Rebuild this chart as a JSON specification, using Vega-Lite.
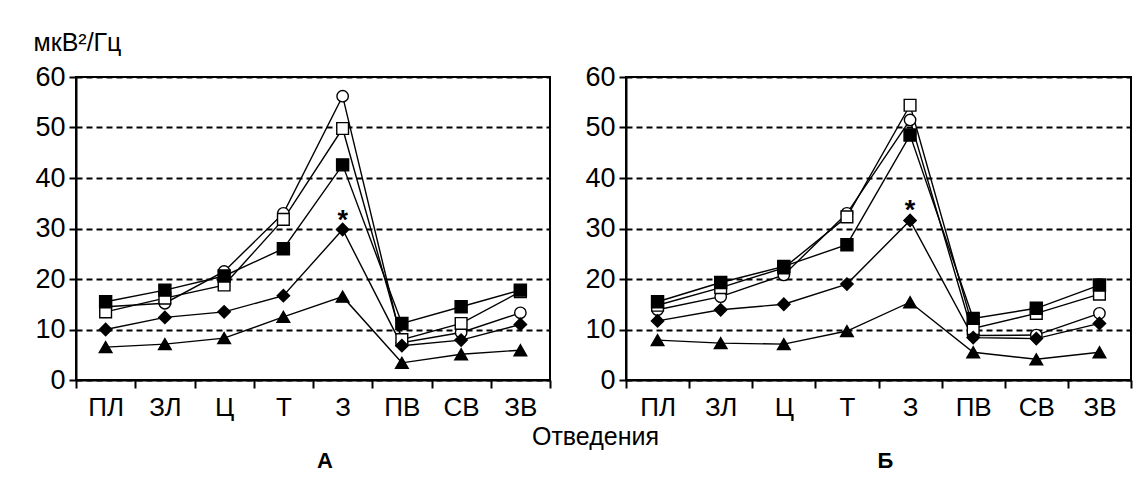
{
  "$schema": "https://vega.github.io/schema/vega-lite/v6.json",
  "background": "white",
  "padding": {"left": 32, "top": 29, "right": 5, "bottom": 5},
  "autosize": {"type": "pad"},
  "config": {
    "font": "Liberation Sans",
    "view": {"stroke": "black", "strokeWidth": 2},
    "axis": {
      "labelFont": "Liberation Sans", "labelFontSize": 26, "labelColor": "black",
      "domainColor": "black", "domainWidth": 2,
      "tickColor": "black", "tickWidth": 2, "tickSize": 7,
      "gridColor": "black", "gridDash": [6, 4], "gridWidth": 2,
      "titleFont": "Liberation Sans", "titleFontWeight": "normal", "titleColor": "black", "titleFontSize": 25
    }
  },
  "datasets": {
    "values": [
      {"panel": "А", "lead": "ПЛ", "group": "1", "value": 14.5},
      {"panel": "А", "lead": "ПЛ", "group": "2", "value": 13.5},
      {"panel": "А", "lead": "ПЛ", "group": "3", "value": 15.5},
      {"panel": "А", "lead": "ПЛ", "group": "4", "value": 10.0},
      {"panel": "А", "lead": "ПЛ", "group": "5", "value": 6.5},
      {"panel": "А", "lead": "ЗЛ", "group": "1", "value": 15.2},
      {"panel": "А", "lead": "ЗЛ", "group": "2", "value": 16.2},
      {"panel": "А", "lead": "ЗЛ", "group": "3", "value": 17.8},
      {"panel": "А", "lead": "ЗЛ", "group": "4", "value": 12.4},
      {"panel": "А", "lead": "ЗЛ", "group": "5", "value": 7.1},
      {"panel": "А", "lead": "Ц", "group": "1", "value": 21.5},
      {"panel": "А", "lead": "Ц", "group": "2", "value": 18.8},
      {"panel": "А", "lead": "Ц", "group": "3", "value": 20.6},
      {"panel": "А", "lead": "Ц", "group": "4", "value": 13.5},
      {"panel": "А", "lead": "Ц", "group": "5", "value": 8.3},
      {"panel": "А", "lead": "Т", "group": "1", "value": 33.0},
      {"panel": "А", "lead": "Т", "group": "2", "value": 31.8},
      {"panel": "А", "lead": "Т", "group": "3", "value": 26.0},
      {"panel": "А", "lead": "Т", "group": "4", "value": 16.7},
      {"panel": "А", "lead": "Т", "group": "5", "value": 12.5},
      {"panel": "А", "lead": "З", "group": "1", "value": 56.2},
      {"panel": "А", "lead": "З", "group": "2", "value": 49.8},
      {"panel": "А", "lead": "З", "group": "3", "value": 42.6},
      {"panel": "А", "lead": "З", "group": "4", "value": 29.8},
      {"panel": "А", "lead": "З", "group": "5", "value": 16.5},
      {"panel": "А", "lead": "ПВ", "group": "1", "value": 7.4},
      {"panel": "А", "lead": "ПВ", "group": "2", "value": 8.0},
      {"panel": "А", "lead": "ПВ", "group": "3", "value": 11.2},
      {"panel": "А", "lead": "ПВ", "group": "4", "value": 6.8},
      {"panel": "А", "lead": "ПВ", "group": "5", "value": 3.4},
      {"panel": "А", "lead": "СВ", "group": "1", "value": 9.4},
      {"panel": "А", "lead": "СВ", "group": "2", "value": 11.2},
      {"panel": "А", "lead": "СВ", "group": "3", "value": 14.5},
      {"panel": "А", "lead": "СВ", "group": "4", "value": 7.9},
      {"panel": "А", "lead": "СВ", "group": "5", "value": 5.1},
      {"panel": "А", "lead": "ЗВ", "group": "1", "value": 13.3},
      {"panel": "А", "lead": "ЗВ", "group": "2", "value": 17.5},
      {"panel": "А", "lead": "ЗВ", "group": "3", "value": 17.8},
      {"panel": "А", "lead": "ЗВ", "group": "4", "value": 11.0},
      {"panel": "А", "lead": "ЗВ", "group": "5", "value": 5.9},
      {"panel": "Б", "lead": "ПЛ", "group": "1", "value": 13.9},
      {"panel": "Б", "lead": "ПЛ", "group": "2", "value": 14.8},
      {"panel": "Б", "lead": "ПЛ", "group": "3", "value": 15.5},
      {"panel": "Б", "lead": "ПЛ", "group": "4", "value": 11.7},
      {"panel": "Б", "lead": "ПЛ", "group": "5", "value": 7.9},
      {"panel": "Б", "lead": "ЗЛ", "group": "1", "value": 16.5},
      {"panel": "Б", "lead": "ЗЛ", "group": "2", "value": 18.3},
      {"panel": "Б", "lead": "ЗЛ", "group": "3", "value": 19.3},
      {"panel": "Б", "lead": "ЗЛ", "group": "4", "value": 13.9},
      {"panel": "Б", "lead": "ЗЛ", "group": "5", "value": 7.3},
      {"panel": "Б", "lead": "Ц", "group": "1", "value": 20.8},
      {"panel": "Б", "lead": "Ц", "group": "2", "value": 22.2},
      {"panel": "Б", "lead": "Ц", "group": "3", "value": 22.5},
      {"panel": "Б", "lead": "Ц", "group": "4", "value": 15.0},
      {"panel": "Б", "lead": "Ц", "group": "5", "value": 7.1},
      {"panel": "Б", "lead": "Т", "group": "1", "value": 33.0},
      {"panel": "Б", "lead": "Т", "group": "2", "value": 32.3},
      {"panel": "Б", "lead": "Т", "group": "3", "value": 26.8},
      {"panel": "Б", "lead": "Т", "group": "4", "value": 19.0},
      {"panel": "Б", "lead": "Т", "group": "5", "value": 9.7},
      {"panel": "Б", "lead": "З", "group": "1", "value": 51.5},
      {"panel": "Б", "lead": "З", "group": "2", "value": 54.4},
      {"panel": "Б", "lead": "З", "group": "3", "value": 48.5},
      {"panel": "Б", "lead": "З", "group": "4", "value": 31.6},
      {"panel": "Б", "lead": "З", "group": "5", "value": 15.4},
      {"panel": "Б", "lead": "ПВ", "group": "1", "value": 8.8},
      {"panel": "Б", "lead": "ПВ", "group": "2", "value": 10.2},
      {"panel": "Б", "lead": "ПВ", "group": "3", "value": 12.2},
      {"panel": "Б", "lead": "ПВ", "group": "4", "value": 8.4},
      {"panel": "Б", "lead": "ПВ", "group": "5", "value": 5.5},
      {"panel": "Б", "lead": "СВ", "group": "1", "value": 8.9},
      {"panel": "Б", "lead": "СВ", "group": "2", "value": 13.2},
      {"panel": "Б", "lead": "СВ", "group": "3", "value": 14.2},
      {"panel": "Б", "lead": "СВ", "group": "4", "value": 8.2},
      {"panel": "Б", "lead": "СВ", "group": "5", "value": 4.1},
      {"panel": "Б", "lead": "ЗВ", "group": "1", "value": 13.2},
      {"panel": "Б", "lead": "ЗВ", "group": "2", "value": 17.0},
      {"panel": "Б", "lead": "ЗВ", "group": "3", "value": 18.8},
      {"panel": "Б", "lead": "ЗВ", "group": "4", "value": 11.2},
      {"panel": "Б", "lead": "ЗВ", "group": "5", "value": 5.5}
    ],
    "stars": [
      {"panel": "А", "lead": "З", "value": 29.8, "note": "*"},
      {"panel": "Б", "lead": "З", "value": 31.6, "note": "*"}
    ]
  },
  "spacing": 76,
  "bounds": "flush",
  "hconcat": [
    {
      "width": 474,
      "height": 303,
      "title": {"text": "А", "orient": "bottom", "fontSize": 22, "fontWeight": "bold", "color": "black", "dx": 12, "offset": 2},
      "encoding": {
        "x": {
          "field": "lead", "type": "nominal",
          "sort": ["ПЛ", "ЗЛ", "Ц", "Т", "З", "ПВ", "СВ", "ЗВ"],
          "scale": {"paddingInner": 0, "paddingOuter": 0},
          "axis": {"labelAngle": 0, "tickBand": "extent", "labelPadding": 6, "tickSize": 8,
                   "title": "Отведения", "titleX": 519, "titleY": 64, "titleAlign": "center", "titleBaseline": "alphabetic"}
        },
        "y": {
          "field": "value", "type": "quantitative",
          "scale": {"domain": [0, 60], "nice": false},
          "axis": {"values": [0, 10, 20, 30, 40, 50, 60], "labelPadding": 4, "labelFontSize": 27,
                   "title": "мкВ²/Гц", "titleAngle": 0, "titleX": -43, "titleY": -27, "titleAlign": "left", "titleBaseline": "alphabetic"}
        }
      },
      "layer": [
        {
          "data": {"name": "values"},
          "transform": [{"filter": "datum.panel === 'А'"}],
          "mark": {"type": "line", "color": "black", "strokeWidth": 1.4},
          "encoding": {"detail": {"field": "group"}}
        },
        {
          "data": {"name": "values"},
          "transform": [{"filter": "datum.panel === 'А'"}],
          "mark": {"type": "point", "filled": true, "stroke": "black", "strokeWidth": 1.4, "opacity": 1},
          "encoding": {
            "shape": {"field": "group", "scale": {"domain": ["1", "2", "3", "4", "5"], "range": ["circle", "square", "square", "diamond", "triangle-up"]}, "legend": null},
            "fill": {"field": "group", "scale": {"domain": ["1", "2", "3", "4", "5"], "range": ["white", "white", "black", "black", "black"]}, "legend": null},
            "size": {"field": "group", "type": "nominal", "scale": {"domain": ["1", "2", "3", "4", "5"], "range": [130, 160, 160, 180, 200]}, "legend": null}
          }
        },
        {
          "data": {"name": "stars"},
          "transform": [{"filter": "datum.panel === 'А'"}],
          "mark": {"type": "text", "fontSize": 27, "fontWeight": "bold", "baseline": "alphabetic", "dy": -1, "color": "black"},
          "encoding": {"text": {"field": "note"}}
        }
      ]
    },
    {
      "width": 505,
      "height": 303,
      "title": {"text": "Б", "orient": "bottom", "fontSize": 22, "fontWeight": "bold", "color": "black", "dx": 7, "offset": 31},
      "encoding": {
        "x": {
          "field": "lead", "type": "nominal",
          "sort": ["ПЛ", "ЗЛ", "Ц", "Т", "З", "ПВ", "СВ", "ЗВ"],
          "scale": {"paddingInner": 0, "paddingOuter": 0},
          "axis": {"labelAngle": 0, "tickBand": "extent", "labelPadding": 6, "tickSize": 8, "title": null}
        },
        "y": {
          "field": "value", "type": "quantitative",
          "scale": {"domain": [0, 60], "nice": false},
          "axis": {"values": [0, 10, 20, 30, 40, 50, 60], "labelPadding": 4, "labelFontSize": 27, "title": null}
        }
      },
      "layer": [
        {
          "data": {"name": "values"},
          "transform": [{"filter": "datum.panel === 'Б'"}],
          "mark": {"type": "line", "color": "black", "strokeWidth": 1.4},
          "encoding": {"detail": {"field": "group"}}
        },
        {
          "data": {"name": "values"},
          "transform": [{"filter": "datum.panel === 'Б'"}],
          "mark": {"type": "point", "filled": true, "stroke": "black", "strokeWidth": 1.4, "opacity": 1},
          "encoding": {
            "shape": {"field": "group", "scale": {"domain": ["1", "2", "3", "4", "5"], "range": ["circle", "square", "square", "diamond", "triangle-up"]}, "legend": null},
            "fill": {"field": "group", "scale": {"domain": ["1", "2", "3", "4", "5"], "range": ["white", "white", "black", "black", "black"]}, "legend": null},
            "size": {"field": "group", "type": "nominal", "scale": {"domain": ["1", "2", "3", "4", "5"], "range": [130, 160, 160, 180, 200]}, "legend": null}
          }
        },
        {
          "data": {"name": "stars"},
          "transform": [{"filter": "datum.panel === 'Б'"}],
          "mark": {"type": "text", "fontSize": 27, "fontWeight": "bold", "baseline": "alphabetic", "dy": -1, "color": "black"},
          "encoding": {"text": {"field": "note"}}
        }
      ]
    }
  ],
  "resolve": {"scale": {"shape": "independent", "fill": "independent", "size": "independent"}}
}
